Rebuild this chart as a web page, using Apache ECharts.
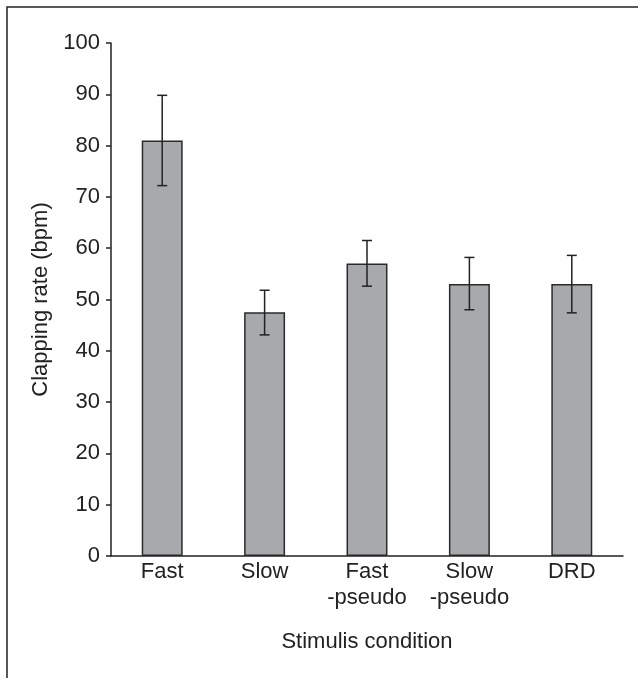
<!DOCTYPE html>
<html>
<head>
<meta charset="utf-8">
<script src="https://cdn.jsdelivr.net/npm/echarts@6/dist/echarts.min.js"></script>
<style>
html,body{margin:0;padding:0;background:#fff;}
#chart{width:638px;height:678px;}
</style>
</head>
<body>
<div id="chart"></div>
<script>
const categories = ['Fast', 'Slow', 'Fast\n-pseudo', 'Slow\n-pseudo', 'DRD'];
const means = [81.0, 47.5, 57.0, 53.0, 53.0];
const errLow = [72.2, 43.1, 52.6, 48.0, 47.4];
const errHigh = [89.8, 51.8, 61.5, 58.2, 58.6];
const yTicks = [0, 10, 20, 30, 40, 50, 60, 70, 80, 90, 100];

const font = 'Liberation Sans, Arial, Helvetica, sans-serif';
const chart = echarts.init(document.getElementById('chart'));
chart.setOption({
  animation: false,
  backgroundColor: '#fff',
  graphic: [{
    type: 'rect',
    shape: {x: 7, y: 7, width: 800, height: 800},
    style: {fill: 'none', stroke: '#222', lineWidth: 1.5},
    silent: true
  }],
  grid: {left: 111, right: 15, top: 43, bottom: 122, containLabel: false},
  xAxis: {
    type: 'category',
    data: categories,
    name: 'Stimulis condition',
    nameLocation: 'middle',
    nameGap: 75,
    nameTextStyle: {fontFamily: font, fontSize: 22, color: '#222'},
    axisLine: {lineStyle: {color: '#222', width: 1.5}},
    axisTick: {show: false},
    axisLabel: {interval: 0, hideOverlap: false, fontFamily: font, fontSize: 22, color: '#222', lineHeight: 26, margin: 3}
  },
  yAxis: {
    type: 'value',
    min: yTicks[0],
    max: yTicks[yTicks.length - 1],
    interval: 10,
    name: 'Clapping rate (bpm)',
    nameLocation: 'middle',
    nameGap: 56,
    nameTextStyle: {fontFamily: font, fontSize: 22, color: '#222'},
    axisLine: {show: true, lineStyle: {color: '#222', width: 1.5}},
    axisTick: {show: true, length: 5, lineStyle: {color: '#222', width: 1.5}},
    axisLabel: {fontFamily: font, fontSize: 22, color: '#222', margin: 11},
    splitLine: {show: false}
  },
  series: [{
    type: 'bar',
    data: means,
    barWidth: '40%',
    itemStyle: {color: '#a8a9ad', borderColor: '#2a2a2a', borderWidth: 1.5}
  }, {
    type: 'custom',
    data: categories.map((c, i) => [i, errLow[i], errHigh[i]]),
    renderItem: function (params, api) {
      const x = api.value(0);
      const lo = api.coord([x, api.value(1)]);
      const hi = api.coord([x, api.value(2)]);
      const cw = 5;
      const st = {stroke: '#222', lineWidth: 1.5};
      return {
        type: 'group',
        children: [
          {type: 'line', shape: {x1: lo[0], y1: lo[1], x2: hi[0], y2: hi[1]}, style: st},
          {type: 'line', shape: {x1: lo[0] - cw, y1: lo[1], x2: lo[0] + cw, y2: lo[1]}, style: st},
          {type: 'line', shape: {x1: hi[0] - cw, y1: hi[1], x2: hi[0] + cw, y2: hi[1]}, style: st}
        ]
      };
    },
    z: 10
  }]
});
</script>
</body>
</html>
